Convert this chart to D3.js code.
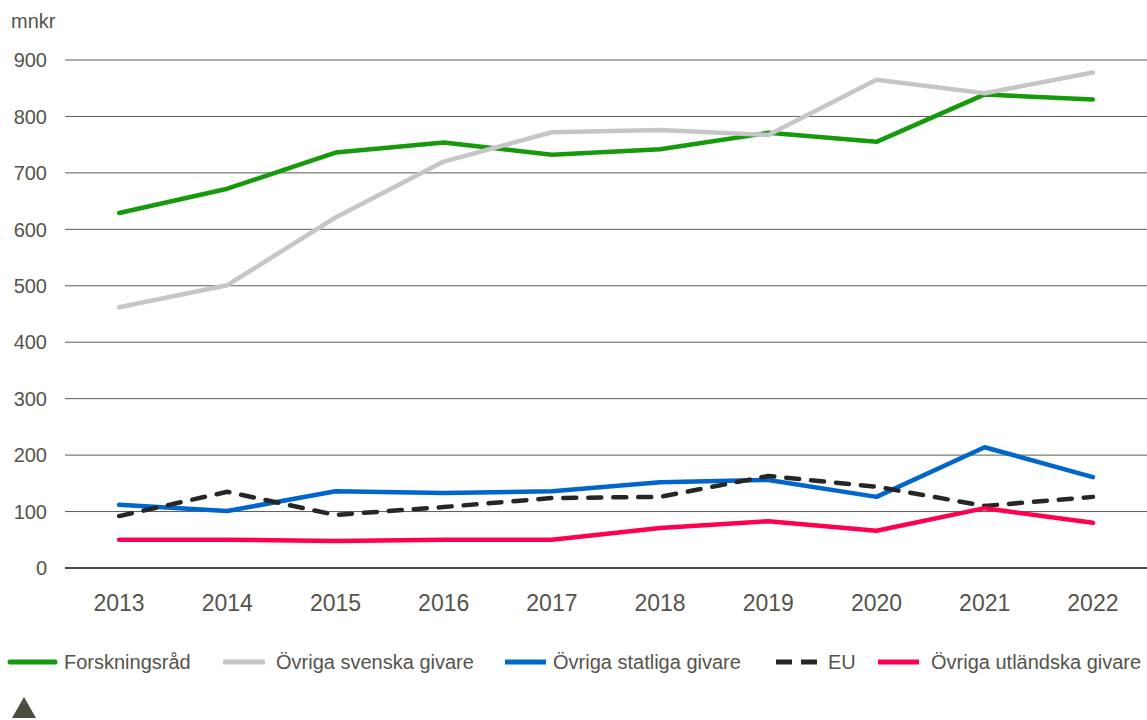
<!DOCTYPE html>
<html>
<head>
<meta charset="utf-8">
<script src="https://cdn.jsdelivr.net/npm/d3@7"></script>
<style>
  body { margin: 0; background: #fff; }
  svg text { font-family: "Liberation Sans", Arial, sans-serif; fill: #55534b; }
</style>
</head>
<body>
<div id="chart"></div>
<script>
// data (mnkr)
var years = [2013, 2014, 2015, 2016, 2017, 2018, 2019, 2020, 2021, 2022];
var forskningsrad = [629, 672, 736, 754, 732, 742, 771, 755, 839, 830];
var ovrigaSvenska = [462, 501, 621, 720, 772, 776, 767, 865, 841, 878];
var ovrigaStatliga = [112, 101, 136, 133, 136, 152, 156, 126, 214, 161];
var eu = [92, 135, 94, 108, 124, 126, 163, 144, 110, 126];
var ovrigaUtlandska = [50, 50, 48, 50, 50, 71, 83, 66, 106, 80];
var yTicks = [0, 100, 200, 300, 400, 500, 600, 700, 800, 900];

var series = [
  { name: "Forskningsråd", values: forskningsrad, color: "#169a0c", dash: null },
  { name: "Övriga svenska givare", values: ovrigaSvenska, color: "#c6c6c6", dash: null },
  { name: "Övriga statliga givare", values: ovrigaStatliga, color: "#0066cc", dash: null },
  { name: "EU", values: eu, color: "#262626", dash: "13,12" },
  { name: "Övriga utländska givare", values: ovrigaUtlandska, color: "#ff0050", dash: null }
];

var width = 1147, height = 720;
var margin = { left: 65, right: 1147, top: 60, bottom: 568 };

var svg = d3.select("#chart").append("svg")
  .attr("width", width)
  .attr("height", height);

var x = d3.scaleBand()
  .domain(years)
  .range([margin.left, margin.right]);

var y = d3.scaleLinear()
  .domain([0, 900])
  .range([margin.bottom, margin.top]);

// gridlines
svg.append("g")
  .selectAll("line")
  .data(yTicks.filter(function(d) { return d > 0; }))
  .enter().append("line")
  .attr("x1", margin.left)
  .attr("x2", margin.right)
  .attr("y1", function(d) { return y(d); })
  .attr("y2", function(d) { return y(d); })
  .attr("stroke", "#5e5b52")
  .attr("stroke-width", 1);

// y tick labels
svg.append("g")
  .selectAll("text")
  .data(yTicks)
  .enter().append("text")
  .attr("x", 47)
  .attr("y", function(d) { return y(d); })
  .attr("dy", "0.36em")
  .attr("text-anchor", "end")
  .style("font-size", "20px")
  .text(function(d) { return d; });

svg.append("text")
  .attr("x", 11)
  .attr("y", 28)
  .style("font-size", "20px")
  .text("mnkr");

// x axis labels
svg.append("g")
  .selectAll("text")
  .data(years)
  .enter().append("text")
  .attr("x", function(d) { return x(d) + x.bandwidth() / 2; })
  .attr("y", 611)
  .attr("text-anchor", "middle")
  .style("font-size", "23px")
  .text(function(d) { return d; });

// lines
var line = d3.line()
  .x(function(d, i) { return x(years[i]) + x.bandwidth() / 2; })
  .y(function(d) { return y(d); });

svg.append("g")
  .selectAll("path")
  .data(series)
  .enter().append("path")
  .attr("d", function(d) { return line(d.values); })
  .attr("fill", "none")
  .attr("stroke", function(d) { return d.color; })
  .attr("stroke-width", 4.5)
  .attr("stroke-linejoin", "round")
  .attr("stroke-linecap", "round")
  .attr("stroke-dasharray", function(d) { return d.dash; });

// zero line
svg.append("line")
  .attr("x1", margin.left)
  .attr("x2", margin.right)
  .attr("y1", y(0))
  .attr("y2", y(0))
  .attr("stroke", "#4e4b42")
  .attr("stroke-width", 2);

// legend
var legendX = [10, 223, 505, 776, 878];
var legendTextX = [54, 53, 48, 52, 53];
var legend = svg.append("g")
  .selectAll("g")
  .data(series)
  .enter().append("g")
  .attr("transform", function(d, i) { return "translate(" + legendX[i] + ",662)"; });

legend.append("line")
  .attr("x1", 0)
  .attr("x2", function(d, i) { return i == 0 ? 45 : (i == 1 ? 42 : 41); })
  .attr("stroke", function(d) { return d.color; })
  .attr("stroke-width", 5)
  .attr("stroke-linecap", function(d, i) { return i == 0 ? "round" : "butt"; })
  .attr("stroke-dasharray", function(d) { return d.dash ? "16,9" : null; });

legend.append("text")
  .attr("x", function(d, i) { return legendTextX[i]; })
  .attr("dy", "0.36em")
  .style("font-size", "20px")
  .text(function(d) { return d.name; });

// marker triangle
svg.append("path")
  .attr("d", "M12,718 L24,697 L36,718 Z")
  .attr("fill", "#4e4b40");
</script>
</body>
</html>
